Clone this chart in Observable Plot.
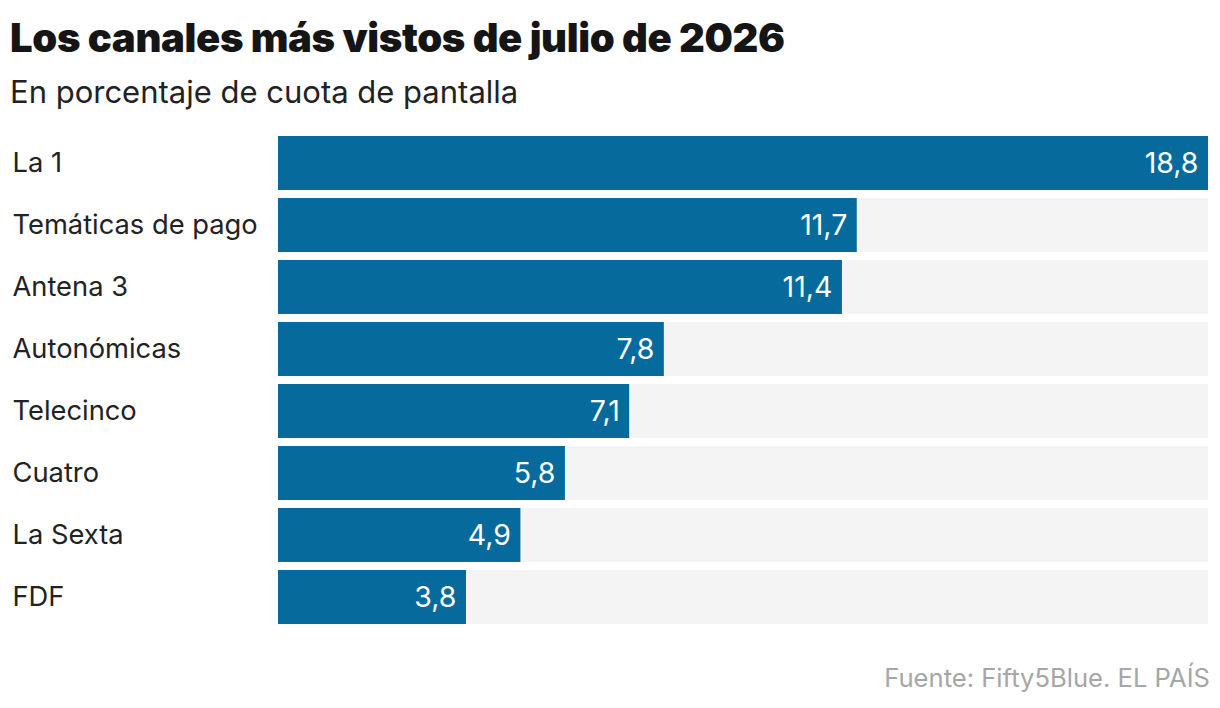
<!DOCTYPE html>
<html><head><meta charset="utf-8">
<script src="https://cdn.jsdelivr.net/npm/d3@7"></script>
<script src="https://cdn.jsdelivr.net/npm/@observablehq/plot@0.6"></script>
<style>
html,body{margin:0;padding:0;background:#fff;}
body{width:1220px;height:708px;position:relative;overflow:hidden;font-family:Inter,"Liberation Sans",sans-serif;}
#t{position:absolute;left:10px;top:15px;font-size:40px;font-weight:900;color:#151515;letter-spacing:-0.35px;line-height:46px;white-space:nowrap}
#s{position:absolute;left:10px;top:73px;font-size:31px;color:#222;line-height:38px;white-space:nowrap}
#c{position:absolute;right:10px;top:662px;font-size:25.6px;color:#a6a6a6;line-height:32px;white-space:nowrap}
#p{position:absolute;left:0;top:128px}
svg{display:block}
</style></head><body>
<div id="t">Los canales más vistos de julio de 2026</div>
<div id="s">En porcentaje de cuota de pantalla</div>
<div id="p"></div>
<div id="c">Fuente: Fifty5Blue. EL PAÍS</div>
<script>
const channels=["La 1","Temáticas de pago","Antena 3","Autonómicas","Telecinco","Cuatro","La Sexta","FDF"];
const shares=[18.8,11.7,11.4,7.8,7.1,5.8,4.9,3.8];
const maxShare=18.8;
const rows=channels.map((c,i)=>({c,v:shares[i]}));
const fmt=v=>v.toFixed(1).replace(".",",");
const chart=Plot.plot({
  width:1220,height:512,
  marginLeft:278,marginRight:12,marginTop:8,marginBottom:0,
  style:{background:"transparent",fontFamily:"Inter, sans-serif"},
  x:{domain:[0,maxShare],axis:null},
  y:{domain:channels,padding:0.129,align:0,axis:null},
  marks:[
    Plot.barX(rows,{y:"c",x1:0,x2:maxShare,fill:"#f4f4f4"}),
    Plot.barX(rows,{y:"c",x1:0,x2:"v",fill:"#066a9d"}),
    Plot.text(rows,{y:"c",x:"v",text:d=>fmt(d.v),textAnchor:"end",dx:-10,fill:"#fff",fontSize:28.5}),
    Plot.text(rows,{y:"c",x:0,text:"c",textAnchor:"start",dx:-266,fill:"#222",fontSize:27.3})
  ]
});
document.getElementById("p").appendChild(chart);
</script></body></html>
